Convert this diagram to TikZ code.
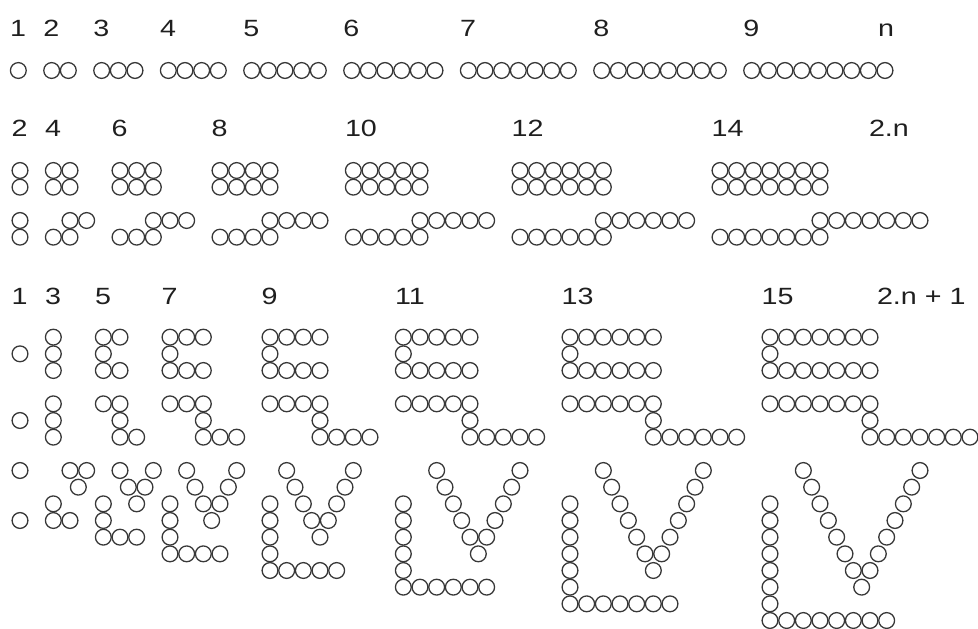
\documentclass[tikz,border=0pt]{standalone}
\usepackage{fontspec}
\newfontfamily\labfont[FakeStretch=1.22]{Liberation Sans}
\tikzset{
  ball/.style={draw=black!78, line width=1.3pt, fill=none},
  lab/.style={anchor=base west, inner sep=0pt, outer sep=0pt,
    font=\labfont\fontsize{23.5}{28}\selectfont, text=black!88},
}
\newcommand\dd{16.6667}
% \ball{x offset px}{column index}{row index}
\newcommand\ball[3]{\draw[ball] ({#1+(#2)*\dd},{70.5+(#3)*\dd}) circle[radius=7.9pt];}
\begin{document}
\begin{tikzpicture}[x=1pt,y=-1pt]
\useasboundingbox (0,0) rectangle (978,629);
% ---------- row 1 : n ----------
\foreach \st/\nn in {0/1,2/2,5/3,9/4,14/5,20/6,27/7,35/8,44/9} {
  \node[lab] (ra\nn) at ({10+\st*\dd},36.5) {\nn};
  \foreach \kk in {1,...,\nn} { \ball{18.33}{\st+\kk-1}{0} }
}
\node[lab] (ran) at (878,36.5) {n};
% ---------- row 2 : 2n ----------
\foreach \st/\nn/\lbl in {0/1/2,2/2/4,6/3/6,12/4/8,20/5/10,30/6/12,42/7/14} {
  \node[lab] (rb\lbl) at ({11.67+\st*\dd},136.5) {\lbl};
  \foreach \kk in {1,...,\nn} {
    \ball{20}{\st+\kk-1}{6}
    \ball{20}{\st+\kk-1}{7}
    \ball{20}{\st+\kk-1}{10}
    \ball{20}{\st+\nn+\kk-2}{9}
  }
}
\node[lab] (rbn) at (869,136.5) {2.n};
% ---------- row 3 : 2n+1 ----------
\node[lab] (rc1) at (11.67,304.5) {1};
\ball{20}{0}{17}
\ball{20}{0}{21}
\ball{20}{0}{24}
\ball{20}{0}{27}
\foreach \uu/\kk/\lbl/\off in {2/1/3/1,5/2/5/1,9/3/7/1,15/4/9/1,23/5/11/2,33/6/13/2,45/7/15/2} {
  \node[lab] (rc\lbl) at ({11.67+\uu*\dd},304.5) {\lbl};
  % E shape
  \foreach \ii in {1,...,\kk} {
    \ball{20}{\uu+\ii-1}{16}
    \ball{20}{\uu+\ii-1}{18}
  }
  \ball{20}{\uu}{17}
  % step shape
  \foreach \ii in {1,...,\kk} {
    \ball{20}{\uu+\ii-1}{20}
    \ball{20}{\uu+\kk+\ii-2}{22}
  }
  \ball{20}{\uu+\kk-1}{21}
  % V shape
  \foreach \rr in {1,...,\kk} {
    \ball{20}{\uu+\off+\kk/2-(\kk-\rr+1)/2}{24+\rr-1}
    \ball{20}{\uu+\off+\kk/2+(\kk-\rr+1)/2}{24+\rr-1}
  }
  \ball{20}{\uu+\off+\kk/2}{24+\kk}
  % L shape
  \foreach \rr in {0,...,\kk} { \ball{20}{\uu}{26+\rr} }
  \foreach \ii in {1,...,\kk} { \ball{20}{\uu+\ii}{26+\kk} }
}
\node[lab] (rcn) at (877,304.5) {2.n + 1};
\end{tikzpicture}
\end{document}
